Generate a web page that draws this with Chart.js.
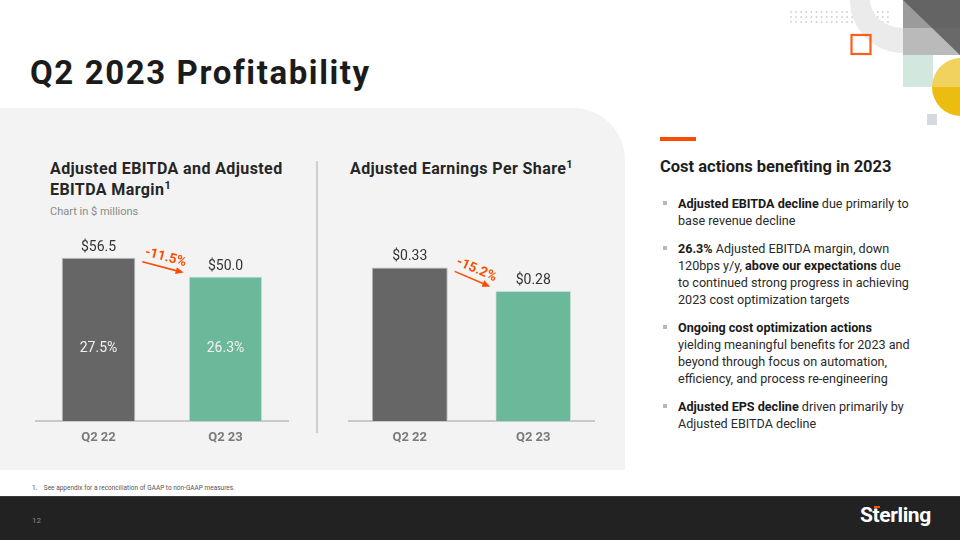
<!DOCTYPE html>
<html>
<head>
<meta charset="utf-8">
<script src="https://cdn.jsdelivr.net/npm/chart.js@4.4.0/dist/chart.umd.min.js"></script>
<style>
  html, body { margin: 0; padding: 0; }
  body { width: 960px; height: 540px; overflow: hidden; position: relative; background: #fff; font-family: Roboto, "Liberation Sans", sans-serif; color: #222; }
  .abs { position: absolute; }
  .panel { left: 0; top: 108px; width: 625px; height: 362px; background: #f3f3f3; border-top-right-radius: 52px; }
  .title { left: 30px; top: 53px; font-size: 33px; font-weight: 700; color: #1b1b1b; letter-spacing: 1.6px; white-space: nowrap; }
  .ctitle { font-size: 16px; font-weight: 700; color: #262626; line-height: 21px; white-space: nowrap; letter-spacing: 0.4px; }
  .ctitle sup { font-size: 11px; vertical-align: 6px; line-height: 0; }
  .sub { left: 50px; top: 205px; font-size: 11px; color: #8a8a8a; }
  .divider { left: 316px; top: 161px; width: 1.5px; height: 272px; background: #cfcfcf; }
  canvas { position: absolute; }
  .accent { left: 660px; top: 137px; width: 36px; height: 4px; background: #fc4c02; }
  .rtitle { left: 660px; top: 157px; font-size: 16.5px; font-weight: 700; color: #1e1e1e; white-space: nowrap; }
  .bullets { left: 678px; top: 195px; width: 270px; font-size: 12.6px; line-height: 17px; color: #2a2a2a; }
  .bullets p { margin: 0 0 11px 0; position: relative; white-space: nowrap; }
  .bullets p::before { content: ""; position: absolute; left: -15px; top: 6px; width: 4px; height: 4px; background: #b8b8b8; }
  .bullets b { font-weight: 700; color: #1a1a1a; }
  .foot { left: 32px; top: 484px; font-size: 6.5px; color: #555; white-space: nowrap; }
  .band { left: 0; top: 496px; width: 960px; height: 44px; background: #222222; border-top: 1px solid #3a3a3a; }
  .page { left: 32px; top: 516px; font-size: 8px; color: #8a8a8a; }
  .logo { left: 860px; top: 503px; font-size: 21px; font-weight: 700; color: #fff; letter-spacing: -0.4px; }
  .logo i { font-style: normal; position: relative; }
  .logo i::before { content: ""; position: absolute; left: 1px; top: 3px; width: 6px; height: 2px; background: #fc4c02; }
</style>
</head>
<body>
<svg class="abs" style="left:0;top:0" width="960" height="140">
  <g fill="#cfcfcf" id="dots"></g>
  <path d="M850 0 A53 53 0 0 0 903 53 L903 28 A33 28 0 0 1 870 0 Z" fill="#ebebeb"/>
  <rect x="851.5" y="35" width="19" height="19" fill="none" stroke="#fc4c02" stroke-width="2.2" opacity="0.9"/>
  <rect x="903" y="0" width="57" height="28" fill="#9b9b9b"/>
  <rect x="903" y="28" width="57" height="27" fill="#bababa"/>
  <polygon points="903,0 960,0 960,55" fill="#5a5a5a" opacity="0.85"/>
  <rect x="903" y="55" width="30" height="32" fill="#d2e8de"/>
  <path d="M932 87 A29 29 0 0 1 960 58 L960 87 Z" fill="#f2d25e"/>
  <path d="M932 87 A29 29 0 0 0 960 116 L960 87 Z" fill="#eabd10"/>
  <rect x="927" y="114" width="10" height="11" fill="#d6dadf"/>
</svg>

<div class="abs panel"></div>
<div class="abs title">Q2 2023 Profitability</div>

<div class="abs ctitle" style="left:50px;top:158px">Adjusted EBITDA and Adjusted<br>EBITDA Margin<sup>1</sup></div>
<div class="abs sub">Chart in $ millions</div>
<div class="abs divider"></div>
<div class="abs ctitle" style="left:350px;top:158px">Adjusted Earnings Per Share<sup>1</sup></div>

<canvas id="ebitdaChart" style="left:35px;top:225px"></canvas>
<canvas id="epsChart" style="left:348px;top:225px"></canvas>

<div class="abs accent"></div>
<div class="abs rtitle">Cost actions benefiting in 2023</div>
<div class="abs bullets">
  <p><b>Adjusted EBITDA decline</b> due primarily to<br>base revenue decline</p>
  <p><b>26.3%</b> Adjusted EBITDA margin, down<br>120bps y/y, <b>above our expectations</b> due<br>to continued strong progress in achieving<br>2023 cost optimization targets</p>
  <p><b>Ongoing cost optimization actions</b><br>yielding meaningful benefits for 2023 and<br>beyond through focus on automation,<br>efficiency, and process re-engineering</p>
  <p><b>Adjusted EPS decline</b> driven primarily by<br>Adjusted EBITDA decline</p>
</div>

<div class="abs foot">1.&nbsp;&nbsp;&nbsp;&nbsp;See appendix for a reconciliation of GAAP to non-GAAP measures.</div>
<div class="abs band"></div>
<div class="abs page">12</div>
<div class="abs logo">S<i>t</i>erling</div>

<script>
// chart data
const categories = ['Q2 22', 'Q2 23'];
const ebitda = [56.5, 50.0];
const ebitdaMargin = ['27.5%', '26.3%'];
const ebitdaChange = '-11.5%';
const eps = [0.33, 0.28];
const epsChange = '-15.2%';
const barColors = ['#666666', '#6bb89a'];

// decorative dot grid top right
(function(){
    const g = document.getElementById('dots');
    let s = '';
    for (let r = 0; r < 3; r++) {
        for (let c = 0; c < 20; c++) {
            s += '<circle cx="' + (791 + c * 5.1) + '" cy="' + (12 + r * 5) + '" r="0.9"/>';
        }
    }
    g.innerHTML = s;
})();

const ORANGE = '#fc4c02';
const FONT = 'Roboto, "Liberation Sans", sans-serif';

// value labels, inner labels and the change arrow
const barLabels = {
    id: 'barLabels',
    afterDatasetsDraw(chart, args, opts) {
        const ctx = chart.ctx;
        const meta = chart.getDatasetMeta(0);
        const vals = chart.data.datasets[0].data;
        const yScale = chart.scales.y;
        ctx.save();
        ctx.textAlign = 'center';
        ctx.textBaseline = 'alphabetic';
        ctx.font = '400 14px ' + FONT;
        ctx.fillStyle = '#333';
        meta.data.forEach(function(bar, i){
            ctx.fillText(opts.fmt(vals[i]), bar.x, bar.y - 7);
        });

        if (opts.inner) {
            const yIn = yScale.getPixelForValue(Math.min.apply(null, vals) / 2) + 3;
            ctx.font = '400 14px ' + FONT;
            ctx.fillStyle = '#f2f2f2';
            meta.data.forEach(function(bar, i){
                ctx.fillText(opts.inner[i], bar.x, yIn);
            });
        }

        // arrow between bars
        const b1 = meta.data[0], b2 = meta.data[1];
        const x1 = b1.x + b1.width / 2 + 7, y1 = b1.y + 4;
        const x2 = b2.x - b2.width / 2 - 5, y2 = b2.y - 4;
        const ang = Math.atan2(y2 - y1, x2 - x1);
        ctx.strokeStyle = ORANGE;
        ctx.fillStyle = ORANGE;
        ctx.lineWidth = 1.6;
        ctx.beginPath();
        ctx.moveTo(x1, y1);
        ctx.lineTo(x2 - 6 * Math.cos(ang), y2 - 6 * Math.sin(ang));
        ctx.stroke();
        ctx.beginPath();
        ctx.moveTo(x2, y2);
        ctx.lineTo(x2 - 8 * Math.cos(ang) + 3.5 * Math.sin(ang), y2 - 8 * Math.sin(ang) - 3.5 * Math.cos(ang));
        ctx.lineTo(x2 - 8 * Math.cos(ang) - 3.5 * Math.sin(ang), y2 - 8 * Math.sin(ang) + 3.5 * Math.cos(ang));
        ctx.closePath();
        ctx.fill();

        const mx = (x1 + x2) / 2 + 10 * Math.sin(ang);
        const my = (y1 + y2) / 2 - 10 * Math.cos(ang);
        ctx.translate(mx, my);
        ctx.rotate(ang);
        ctx.font = '700 13.5px ' + FONT;
        ctx.textBaseline = 'middle';
        ctx.fillText(opts.change, 0, 0);
        ctx.restore();
    }
};

function makeChart(id, w, values, max, barPct, padTop, labelOpts) {
    const el = document.getElementById(id);
    el.width = w;
    el.height = 245;
    el.style.width = w + 'px';
    el.style.height = '245px';
    return new Chart(el, {
        type: 'bar',
        data: {
            labels: categories,
            datasets: [{
                data: values,
                backgroundColor: barColors,
                borderColor: ['#bdbdbd', '#d7ebe2'],
                borderWidth: 1,
                borderSkipped: 'bottom',
                barPercentage: barPct,
                categoryPercentage: 1
            }]
        },
        options: {
            responsive: false,
            animation: false,
            events: [],
            layout: { padding: { top: padTop, bottom: 15.4, left: 0, right: 0 } },
            plugins: {
                legend: { display: false },
                tooltip: { enabled: false },
                barLabels: labelOpts
            },
            scales: {
                x: {
                    grid: { display: true, color: 'rgba(0,0,0,0)', drawTicks: false },
                    border: { display: true, color: '#c9c9c9', width: 2 },
                    ticks: { color: '#7a7a7a', padding: 9, font: { family: FONT, size: 13, weight: '700' } }
                },
                y: { display: false, min: 0, max: max }
            }
        },
        plugins: [barLabels]
    });
}

makeChart('ebitdaChart', 254, ebitda, 65, 0.58, 8.3, {
    fmt: function(v){ return '$' + v.toFixed(1); },
    inner: ebitdaMargin,
    change: ebitdaChange
});

makeChart('epsChart', 247, eps, 0.4, 0.615, 9.8, {
    fmt: function(v){ return '$' + v.toFixed(2); },
    change: epsChange
});
</script>
</body>
</html>
